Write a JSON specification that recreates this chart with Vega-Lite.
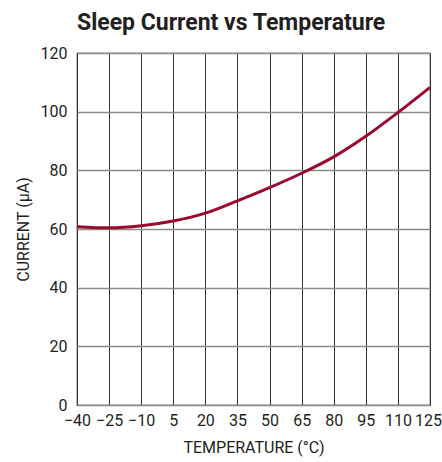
{
  "$schema": "https://vega.github.io/schema/vega-lite/v6.json",
  "autosize": "none",
  "padding": {"left": 77, "top": 53, "right": 12, "bottom": 57},
  "width": 353,
  "height": 352,
  "title": {"text": "Sleep Current vs Temperature", "anchor": "start", "frame": "group", "font": "Roboto", "fontSize": 23, "fontWeight": "bold", "color": "#231f20", "offset": 10},
  "config": {
    "view": {"stroke": "#333333", "strokeWidth": 1.2},
    "axis": {"labelFont": "Roboto", "titleFont": "Roboto", "labelFontSize": 16, "titleFontSize": 16, "labelColor": "#231f20", "titleColor": "#231f20", "titleFontWeight": "normal", "ticks": false, "domain": false}
  },
  "data": {"values": [
    {"t": -40, "i": 60.8},
    {"t": -25, "i": 60.4},
    {"t": -10, "i": 61.1},
    {"t": 5, "i": 62.7},
    {"t": 20, "i": 65.4},
    {"t": 35, "i": 69.6},
    {"t": 50, "i": 74.1},
    {"t": 65, "i": 79.0},
    {"t": 80, "i": 84.6},
    {"t": 95, "i": 91.6},
    {"t": 110, "i": 99.7},
    {"t": 125, "i": 108.3}
  ]},
  "mark": {"type": "line", "color": "#9b0a2e", "strokeWidth": 3, "interpolate": "monotone"},
  "encoding": {
    "x": {"field": "t", "type": "quantitative", "scale": {"domain": [-40, 125], "nice": false, "zero": false},
      "axis": {"values": [-40, -25, -10, 5, 20, 35, 50, 65, 80, 95, 110, 125], "title": "TEMPERATURE (°C)", "labelPadding": 7, "titlePadding": 11, "gridColor": "#333333", "gridOpacity": 1, "gridWidth": 1, "labelFlush": false, "labelOverlap": false,
        "labelOffset": {"expr": "datum.value == 125 ? -2 : 0"}}},
    "y": {"field": "i", "type": "quantitative", "scale": {"domain": [0, 120], "nice": false},
      "axis": {"values": [0, 20, 40, 60, 80, 100, 120], "title": "CURRENT (µA)", "labelPadding": 10, "titlePadding": 9, "gridColor": "#8c8c8c", "gridOpacity": 1, "gridWidth": 1.5}}
  }
}
